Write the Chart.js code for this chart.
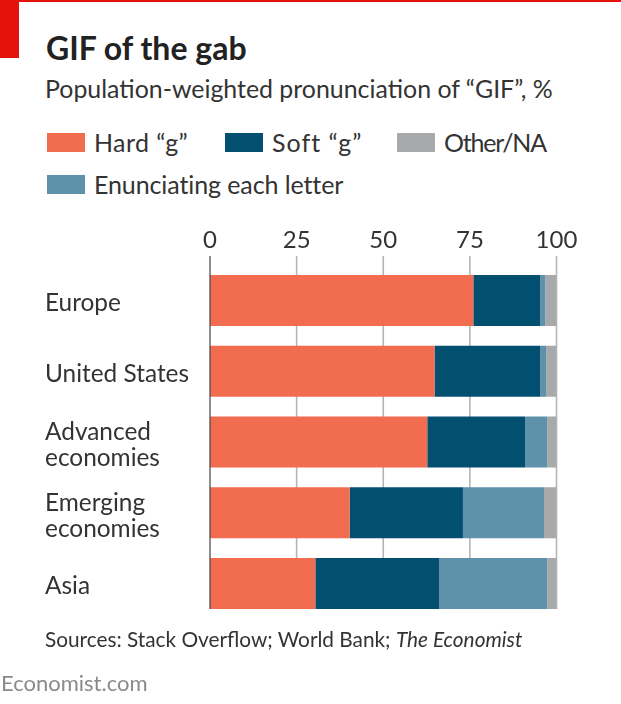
<!DOCTYPE html>
<html>
<head>
<meta charset="utf-8">
<title>GIF of the gab</title>
<script src="https://cdn.jsdelivr.net/npm/chart.js@4/dist/chart.umd.js"></script>
<style>
    html, body { margin: 0; padding: 0; background: #fff; }
    body { width: 621px; height: 704px; position: relative; overflow: hidden; font-family: Lato, sans-serif; color: #333; }
    canvas { position: absolute; left: 0; top: 0; }
    .txt { position: absolute; white-space: nowrap; line-height: 1; }
    .topline { position: absolute; left: 0; top: 0; width: 621px; height: 2px; background: #e3120b; }
    .redbox { position: absolute; left: 0; top: 0; width: 19px; height: 58px; background: #e3120b; }
    #title { left: 46px; top: 32px; font-size: 32px; font-weight: 700; color: #222; }
    #subtitle { left: 45px; top: 76px; font-size: 24.9px; }
    #source { left: 45px; top: 629px; font-size: 20.8px; }
    #site { left: 1px; top: 672px; font-size: 22px; color: #8a8a8a; }
    .swatch { position: absolute; width: 38px; height: 19px; }
</style>
</head>
<body>
<div class="topline"></div>
<div class="redbox"></div>
<div class="txt" id="title">GIF of the gab</div>
<div class="txt" id="subtitle">Population-weighted pronunciation of “GIF”, %</div>
<div id="legend"></div>
<canvas id="gifChart" width="621" height="704"></canvas>
<div class="txt" id="source">Sources: Stack Overflow; World Bank; <i>The Economist</i></div>
<div class="txt" id="site">Economist.com</div>

<script>
const CATEGORIES = ["Europe", "United States", ["Advanced", "economies"], ["Emerging", "economies"], "Asia"];
const X_TICKS = [0, 25, 50, 75, 100];

const HARD_G = [76, 64.8, 62.7, 40.3, 30.4];
const SOFT_G = [19.3, 30.5, 28.3, 32.7, 35.8];
const ENUNCIATING = [1.5, 1.7, 6.4, 23.4, 31.2];
const OTHER_NA = [3.2, 3, 2.6, 3.6, 2.6];

const HARD_NAME = "Hard “g”";
const SOFT_NAME = "Soft “g”";
const ENUNCIATING_NAME = "Enunciating each letter";
const OTHER_NAME = "Other/NA";

const COLOR_HARD = '#f26d50';
const COLOR_SOFT = '#034f70';
const COLOR_ENUNCIATING = '#5f91aa';
const COLOR_OTHER = '#a8a9ab';

// Legend is laid out by hand, the columns don't follow the stacking order
const legendEl = document.getElementById('legend');
[
    [HARD_NAME, COLOR_HARD, 47, 133, 0.4],
    [SOFT_NAME, COLOR_SOFT, 225, 133, 1],
    [OTHER_NAME, COLOR_OTHER, 397, 133, -1.2],
    [ENUNCIATING_NAME, COLOR_ENUNCIATING, 47, 175, -0.1]
].forEach(([name, color, x, y, spacing]) => {
    const box = document.createElement('div');
    box.className = 'swatch';
    box.style.cssText = `left:${x}px;top:${y}px;background:${color}`;
    const label = document.createElement('div');
    label.className = 'txt';
    label.textContent = name;
    label.style.cssText = `left:${x + 47}px;top:${y - 3}px;font-size:25px;letter-spacing:${spacing}px`;
    legendEl.append(box, label);
});

// Gridlines run from above the first bar to the foot of the last one,
// which is not the category band, so they are drawn here from the x scale
const gridPlugin = {
    id: 'gridPlugin',
    beforeDraw(chart) {
        // category labels sit a little lower than Lato's middle baseline
        chart.scales.y.getLabelItems().forEach(item => {
            if (!item.shifted) {
                item.options.translation[1] += 3;
                item.shifted = true;
            }
        });
    },
    beforeDatasetsDraw(chart) {
        const { ctx, scales: { x } } = chart;
        ctx.save();
        ctx.strokeStyle = '#b4b5b6';
        ctx.lineWidth = 1.6;
        X_TICKS.slice(1).forEach(t => {
            const px = x.getPixelForValue(t);
            ctx.beginPath();
            ctx.moveTo(px, 256);
            ctx.lineTo(px, 609);
            ctx.stroke();
        });
        ctx.restore();
    },
    afterDatasetsDraw(chart) {
        const { ctx, scales: { x } } = chart;
        const px = x.getPixelForValue(0);
        ctx.save();
        ctx.strokeStyle = '#444';
        ctx.lineWidth = 1.2;
        ctx.beginPath();
        ctx.moveTo(px, 256);
        ctx.lineTo(px, 609);
        ctx.stroke();
        ctx.restore();
    }
};

const makeSeries = (label, data, color) => ({
    label: label,
    data: data,
    backgroundColor: color,
    borderWidth: 0,
    barPercentage: 0.72,
    categoryPercentage: 1
});

new Chart(document.getElementById('gifChart').getContext('2d'), {
    type: 'bar',
    data: {
        labels: CATEGORIES,
        datasets: [
            makeSeries(HARD_NAME, HARD_G, COLOR_HARD),
            makeSeries(SOFT_NAME, SOFT_G, COLOR_SOFT),
            makeSeries(ENUNCIATING_NAME, ENUNCIATING, COLOR_ENUNCIATING),
            makeSeries(OTHER_NAME, OTHER_NA, COLOR_OTHER)
        ]
    },
    plugins: [gridPlugin],
    options: {
        indexAxis: 'y',
        responsive: false,
        animation: false,
        layout: { padding: { left: 45, right: 64.5, top: 0, bottom: 85 } },
        plugins: {
            legend: { display: false },
            tooltip: { enabled: false }
        },
        scales: {
            x: {
                position: 'top',
                stacked: true,
                min: 0,
                max: 100,
                afterFit: scale => { scale.height = 265; },
                afterBuildTicks: scale => { scale.ticks = X_TICKS.map(v => ({ value: v })); },
                grid: { display: false },
                border: { display: false },
                ticks: {
                    color: '#333',
                    padding: 2,
                    maxRotation: 0,
                    font: { family: 'Lato, sans-serif', size: 24 }
                }
            },
            y: {
                stacked: true,
                afterFit: scale => { scale.width = 165; },
                grid: { display: false },
                border: { display: false },
                ticks: {
                    color: '#333',
                    crossAlign: 'far',
                    autoSkip: false,
                    font: { family: 'Lato, sans-serif', size: 24.4, lineHeight: '26px' }
                }
            }
        }
    }
});
</script>
</body>
</html>
